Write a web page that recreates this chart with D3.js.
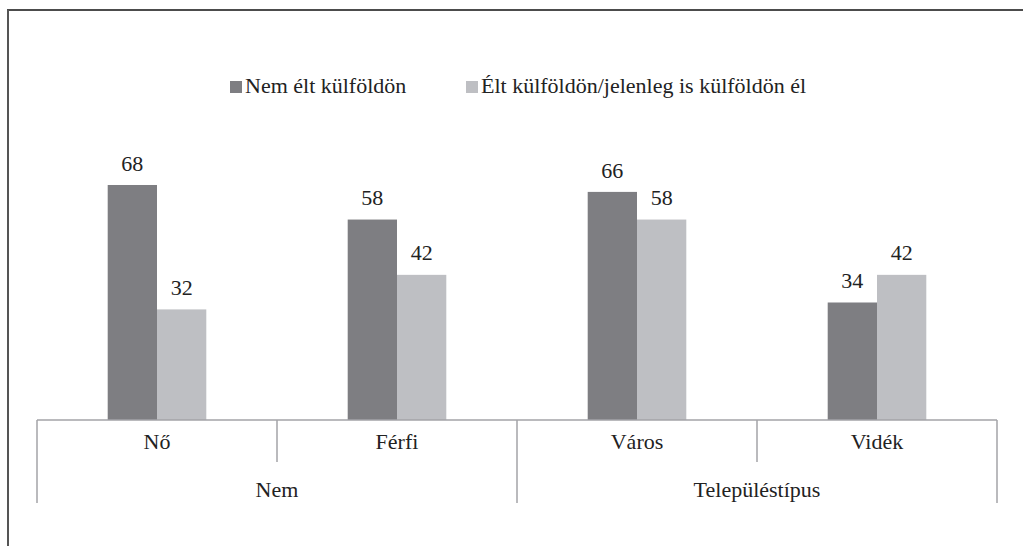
<!DOCTYPE html>
<html><head><meta charset="utf-8"><script src="https://cdn.jsdelivr.net/npm/d3@7"></script>
<style>
  body { margin: 0; }
  #wrap { position: relative; width: 1023px; height: 546px; }
  #wrap svg { position: absolute; left: 0; top: 0; }
  .lbl { position: absolute; font-family: 'Liberation Serif'; font-size: 22px; line-height: 22px; color: #222; white-space: nowrap; }
  .mid { transform: translateX(-50%); }
</style>
</head>
<body>
<div id="wrap"><svg id="chart" width="1023" height="546"></svg></div>
<script>
// data
var categories = ['Nő', 'Férfi', 'Város', 'Vidék'];
var groupNames = ['Nem', 'Településtípus'];
var groupSpans = [[0, 2], [2, 4]];
var seriesNames = ['Nem élt külföldön', 'Élt külföldön/jelenleg is külföldön él'];
var notAbroad = [68, 58, 66, 34];
var abroad = [32, 42, 58, 42];

var colors = ['#7e7e82', '#bebfc3'];

var svg = d3.select('#chart');
var wrap = d3.select('#wrap');

var left = 37, right = 997, baseY = 420;
var x = d3.scaleBand().domain(categories).range([left, right]);
var xs = d3.scaleBand().domain([0, 1]).range([-49.3, 49.3]);
var y = d3.scaleLinear().domain([0, 80]).range([baseY, baseY - 80 * 3.456]);

// frame, only top and left edge visible
svg.append('line').attr('x1', 7).attr('x2', 1023).attr('y1', 10).attr('y2', 10)
  .attr('stroke', '#111').attr('stroke-width', 1.6);
svg.append('line').attr('x1', 8).attr('x2', 8).attr('y1', 10).attr('y2', 546)
  .attr('stroke', '#555').attr('stroke-width', 2);

var bars = [];
categories.forEach(function(c, i) {
  bars.push({ cat: c, s: 0, v: notAbroad[i] });
  bars.push({ cat: c, s: 1, v: abroad[i] });
});

function cx(d) { return x(d.cat) + x.bandwidth() / 2 + xs(d.s); }

svg.selectAll('rect.bar').data(bars).enter().append('rect')
  .attr('class', 'bar')
  .attr('x', cx)
  .attr('width', xs.bandwidth())
  .attr('y', function(d) { return y(d.v); })
  .attr('height', function(d) { return baseY - y(d.v); })
  .attr('fill', function(d) { return colors[d.s]; });

// category axis
var axisColor = '#a3a3a7';
svg.append('line').attr('x1', left).attr('x2', right).attr('y1', baseY).attr('y2', baseY)
  .attr('stroke', axisColor).attr('stroke-width', 1.5);

svg.selectAll('line.tick').data(d3.range(categories.length + 1)).enter().append('line')
  .attr('class', 'tick')
  .attr('x1', function(i) { return left + i * x.step(); })
  .attr('x2', function(i) { return left + i * x.step(); })
  .attr('y1', baseY)
  .attr('y2', function(i) { return i % 2 === 0 ? 503 : 462; })
  .attr('stroke', axisColor).attr('stroke-width', 1.5);

// legend keys
var legendX = [230, 466];
svg.selectAll('rect.key').data(seriesNames).enter().append('rect')
  .attr('class', 'key')
  .attr('x', function(d, i) { return legendX[i]; })
  .attr('y', 81)
  .attr('width', 12).attr('height', 12)
  .attr('fill', function(d, i) { return colors[i]; });

// texts as html labels; y is the baseline, shifted to the box top
var texts = [];
bars.forEach(function(d) {
  texts.push({ t: String(d.v), x: cx(d) + xs.bandwidth() / 2, y: y(d.v) - 14, mid: true });
});
categories.forEach(function(c) {
  texts.push({ t: c, x: x(c) + x.bandwidth() / 2, y: 449, mid: true });
});
groupNames.forEach(function(n, i) {
  var sp = groupSpans[i];
  texts.push({ t: n, x: (x(categories[sp[0]]) + x(categories[sp[1] - 1]) + x.bandwidth()) / 2, y: 497, mid: true });
});
seriesNames.forEach(function(n, i) {
  texts.push({ t: n, x: legendX[i] + 15, y: 93, mid: false });
});

wrap.selectAll('div.lbl').data(texts).enter().append('div')
  .attr('class', function(d) { return d.mid ? 'lbl mid' : 'lbl'; })
  .style('left', function(d) { return d.x + 'px'; })
  .style('top', function(d) { return (d.y - 18.4) + 'px'; })
  .text(function(d) { return d.t; });
</script></body></html>
